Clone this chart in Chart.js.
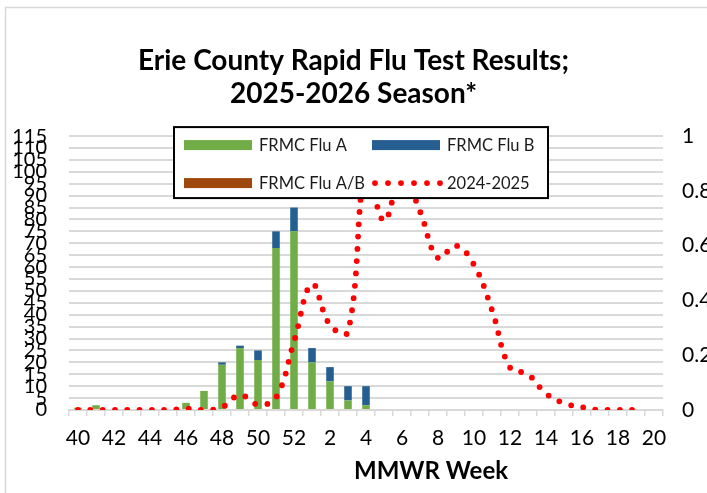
<!DOCTYPE html>
<html>
<head>
<meta charset="utf-8">
<script src="https://cdn.jsdelivr.net/npm/chart.js@4.4.1/dist/chart.umd.min.js"></script>
<style>
  html, body { margin: 0; padding: 0; background: #fff; overflow: hidden; }
</style>
</head>
<body>
<canvas id="flu" width="707" height="493"></canvas>
<script>
// MMWR weeks, season runs week 40 -> week 20
const weeks = ['40','41','42','43','44','45','46','47','48','49','50','51','52',
  '1','2','3','4','5','6','7','8','9','10','11','12','13','14','15','16','17','18','19','20'];

const fluA  = [1, 2, 0, 0, 0, 0, 3, 8, 19, 26, 21, 68, 75, 20, 12, 4, 2,
  null, null, null, null, null, null, null, null, null, null, null, null, null, null, null, null];
const fluB  = [0, 0, 0, 0, 0, 0, 0, 0, 1, 1, 4, 7, 10, 6, 6, 6, 8,
  null, null, null, null, null, null, null, null, null, null, null, null, null, null, null, null];
const fluAB = [0, 0, 0, 0, 0, 0, 0, 0, 0, 0, 0, 0, 0, 0, 0, 0, 0,
  null, null, null, null, null, null, null, null, null, null, null, null, null, null, null, null];

// last season, plotted on the right axis
const season2425 = [0, 0, 0, 0, 0, 0, 0.005, 0, 0.01, 0.055, 0.02, 0.045, 0.25,
  0.46, 0.31, 0.285, 0.88, 0.69, 0.86, 0.725, 0.555, 0.6, 0.53, 0.365, 0.155,
  0.13, 0.06, 0.025, 0.01, 0, 0, 0, null];

const FONT = 'Lato';
const GRID = '#d9d9d9';

// legend drawn as a boxed 2x2 grid inside the plot, like the excel one
const boxLegend = {
  id: 'boxLegend',
  afterDatasetsDraw(chart) {
    const ctx = chart.ctx, a = chart.chartArea;
    const x0 = a.left + 105, y0 = a.top - 9, w = 374, h = 71;
    ctx.save();
    ctx.fillStyle = '#fff';
    ctx.fillRect(x0, y0, w, h);
    ctx.strokeStyle = '#000';
    ctx.lineWidth = 2;
    ctx.strokeRect(x0, y0, w, h);
    ctx.font = '16.5px ' + FONT;
    ctx.textBaseline = 'middle';
    ctx.textAlign = 'left';
    chart.data.datasets.forEach((ds, i) => {
      const col = i % 2, row = Math.floor(i / 2);
      const sx = x0 + 10 + col * 188, sy = y0 + 18 + row * 38;
      if (ds.type === 'line') {
        ctx.fillStyle = ds.borderColor;
        for (let k = 0; k < 6; k++) {
          ctx.beginPath();
          ctx.arc(sx + 3 + k * 13, sy, 2.9, 0, Math.PI * 2);
          ctx.fill();
        }
      } else {
        ctx.fillStyle = ds.backgroundColor;
        ctx.fillRect(sx, sy - 5, 68, 10);
      }
      ctx.fillStyle = '#1a1a1a';
      ctx.fillText(ds.label, sx + 75, sy + 1);
    });
    ctx.restore();
  }
};

// x axis title sits right of centre in the original
const xTitle = {
  id: 'xTitle',
  afterDraw(chart) {
    const ctx = chart.ctx, a = chart.chartArea;
    ctx.save();
    ctx.font = 'bold 24px ' + FONT;
    ctx.fillStyle = '#000';
    ctx.textAlign = 'center';
    ctx.textBaseline = 'middle';
    ctx.fillText('MMWR Week', a.left + 362, a.bottom + 61);
    ctx.restore();
  }
};

const frame = {
  id: 'frame',
  beforeDraw(chart) {
    const ctx = chart.ctx;
    ctx.save();
    ctx.fillStyle = '#fff';
    ctx.fillRect(0, 0, chart.width, chart.height);
    ctx.strokeStyle = GRID;
    ctx.lineWidth = 1.5;
    ctx.strokeRect(5.5, 7.5, chart.width + 20, chart.height + 20);
    ctx.restore();
  }
};

new Chart(document.getElementById('flu'), {
  data: {
    labels: weeks,
    datasets: [
      { type: 'bar', label: 'FRMC Flu A', data: fluA, backgroundColor: '#70ad47', stack: 'flu', order: 1 },
      { type: 'bar', label: 'FRMC Flu B', data: fluB, backgroundColor: '#255e91', stack: 'flu', order: 1 },
      { type: 'bar', label: 'FRMC Flu A/B', data: fluAB, backgroundColor: '#9e480e', stack: 'flu', order: 1 },
      {
        type: 'line', label: '2024-2025', data: season2425, yAxisID: 'y1', order: 0,
        borderColor: '#ff0000', borderWidth: 5.8, borderDash: [0, 12.3], borderCapStyle: 'round',
        pointRadius: 0, tension: 0.4, fill: false
      }
    ]
  },
  options: {
    responsive: false,
    animation: false,
    layout: { padding: 0 },
    datasets: { bar: { categoryPercentage: 1, barPercentage: 0.42 } },
    plugins: {
      legend: { display: false },
      tooltip: { enabled: false },
      title: {
        display: true,
        text: ['Erie County Rapid Flu Test Results;', '2025-2026 Season*'],
        color: '#000',
        font: { family: FONT, size: 28, weight: 'bold', lineHeight: 1.18 },
        padding: { top: 44, bottom: 26 }
      }
    },
    scales: {
      x: {
        stacked: true,
        offset: true,
        grid: { drawOnChartArea: false, drawTicks: true, tickLength: 6, offset: true, color: GRID, lineWidth: 1.5 },
        border: { display: true, color: GRID, width: 2 },
        ticks: {
          autoSkip: false, maxRotation: 0, padding: 10, color: '#000',
          font: { family: FONT, size: 21 },
          callback: function (v, i) { return i % 2 === 0 ? this.getLabelForValue(v) : ''; }
        },
        afterFit(s) { s.height = 83; }
      },
      y: {
        stacked: true,
        min: 0, max: 115,
        grid: { color: GRID, lineWidth: 2, drawTicks: false },
        border: { display: false },
        ticks: { stepSize: 5, autoSkip: false, padding: 22, color: '#000', font: { family: FONT, size: 20 } },
        afterFit(s) { s.width = 69; }
      },
      y1: {
        position: 'right',
        min: 0, max: 1,
        grid: { display: false, drawTicks: false },
        border: { display: false },
        ticks: {
          stepSize: 0.2, padding: 19, color: '#000', font: { family: FONT, size: 21 },
          callback: v => String(Math.round(v * 10) / 10)
        },
        afterFit(s) { s.width = 44; }
      }
    }
  },
  plugins: [frame, boxLegend, xTitle]
});
</script>
</body>
</html>
